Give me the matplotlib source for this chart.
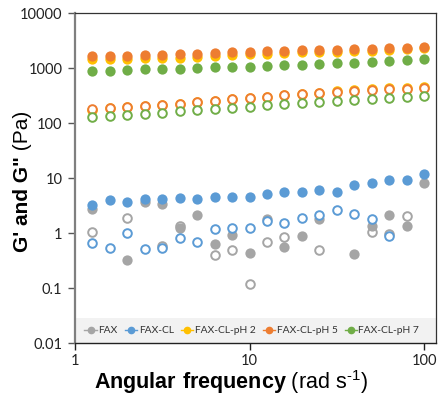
import numpy as np
import matplotlib
matplotlib.use('Agg')
import matplotlib.pyplot as plt
from matplotlib.lines import Line2D
from matplotlib.patches import Rectangle

# angular frequency (rad/s)
freq = [1.259, 1.585, 1.995, 2.512, 3.162, 3.981, 5.012, 6.310, 7.943, 10.0,
        12.59, 15.85, 19.95, 25.12, 31.62, 39.81, 50.12, 63.10, 79.43, 100.0]

nan = np.nan
# G' (filled) and G'' (open) for each sample
fax_g1 = [2.80, nan, 0.332, 3.72, 3.42, 1.24, 2.17, 0.637, 0.944, 0.447,
          1.79, 0.552, 0.881, 1.79, nan, 0.428, 1.35, 2.11, 1.33, 8.09]
fax_g2 = [1.07, nan, 1.89, nan, 0.593, 1.38, nan, 0.41, 0.493, 0.120,
          0.682, 0.844, nan, 0.493, nan, nan, 1.04, 0.973, 2.03, nan]
cl_g1 = [3.32, 4.05, 3.72, 4.28, 4.28, 4.41, 4.28, 4.60, 4.60, 4.60,
         5.08, 5.52, 5.69, 6.18, 5.60, 7.43, 8.20, 9.45, 9.45, 12.0]
cl_g2 = [0.655, 0.53, 1.01, 0.508, 0.53, 0.81, 0.703, 1.22, 1.24, 1.27,
         1.66, 1.53, 1.91, 2.11, 2.61, 2.21, 1.79, 0.906, nan, nan]
ph2_g1 = [1450, 1460, 1475, 1520, 1530, 1570, 1600, 1650, 1760, 1810,
          1850, 1900, 1940, 1970, 2000, 2070, 2080, 2140, 2200, 2300]
ph2_g2 = [178, 186, 194, 203, 214, 226, 240, 253, 273, 293,
          307, 326, 341, 357, 380, 403, 418, 432, 445, 465]
ph5_g1 = [1675, 1675, 1693, 1745, 1745, 1800, 1820, 1874, 1954, 2005,
          2037, 2090, 2124, 2152, 2179, 2245, 2245, 2311, 2372, 2472]
ph5_g2 = [180, 187, 195, 204, 215, 227, 241, 254, 273, 292,
          305, 323, 337, 351, 371, 392, 403, 415, 426, 444]
ph7_g1 = [893, 904, 931, 959, 971, 984, 1013, 1043, 1056, 1070,
          1101, 1134, 1148, 1182, 1233, 1264, 1318, 1358, 1397, 1458]
ph7_g2 = [132, 137, 143, 150, 156, 165, 172, 182, 192, 200,
          212, 224, 237, 247, 258, 268, 280, 292, 305, 318]

labels = ['FAX', 'FAX-CL', 'FAX-CL-pH 2', 'FAX-CL-pH 5', 'FAX-CL-pH 7']
colors = ['#A5A5A5', '#5B9BD5', '#FFC000', '#ED7D31', '#70AD47']
g1_sets = [fax_g1, cl_g1, ph2_g1, ph5_g1, ph7_g1]
g2_sets = [fax_g2, cl_g2, ph2_g2, ph5_g2, ph7_g2]

plt.rcParams['mathtext.fontset'] = 'custom'
plt.rcParams['mathtext.rm'] = 'Liberation Sans'
plt.rcParams['mathtext.bf'] = 'Liberation Sans:bold'

fig = plt.figure(figsize=(4.4, 3.95), dpi=100)
ax = fig.add_axes([75/440, 1-343.3/395, 361/440, 330/395])

for g1, g2, c in zip(g1_sets, g2_sets, colors):
    ax.plot(freq, g2, 'o', ms=6.2, mfc='white', mec=c, mew=1.4, ls='none')
    ax.plot(freq, g1, 'o', ms=7.4, mfc=c, mec='none', ls='none')

ax.set_xscale('log')
ax.set_yscale('log')
ax.set_xlim(1, 117)
ax.set_ylim(0.01, 10000)
ax.set_xticks([1, 10, 100])
ax.set_xticklabels(['1', '10', '100'])
ax.set_yticks([0.01, 0.1, 1, 10, 100, 1000, 10000])
ax.set_yticklabels(['0.01', '0.1', '1', '10', '100', '1000', '10000'])
ax.minorticks_off()
for lab in ax.get_xticklabels() + ax.get_yticklabels():
    lab.set_family('Lato')
    lab.set_fontsize(10.5)
    lab.set_color('#222222')
ax.tick_params(axis='y', direction='out', length=5, width=1, color='#555555', pad=4)
ax.tick_params(axis='x', direction='out', length=5, width=1, color='#222222', pad=3)

ax.spines['left'].set_color('#7F7F7F')
ax.spines['left'].set_linewidth(1.6)
ax.spines['bottom'].set_color('#222222')
ax.spines['bottom'].set_linewidth(1.0)
for s in ['top', 'right']:
    ax.spines[s].set_color('#333333')
    ax.spines[s].set_linewidth(0.9)

# legend band across the bottom of the plot
ax.add_patch(Rectangle((0, 0), 1, 25/330, transform=ax.transAxes,
                       facecolor='#F2F2F2', edgecolor='none', zorder=0.5))
handles = [Line2D([], [], color=c, marker='o', ms=4.5, lw=1.0) for c in colors]
leg = ax.legend(handles, labels, loc='center', ncol=5,
                bbox_to_anchor=(0.49, 12.5/330), borderaxespad=0,
                prop={'family': 'Lato', 'size': 7.4}, handlelength=1.2,
                handletextpad=0.15, columnspacing=0.7, frameon=False)
for t in leg.get_texts():
    t.set_color('#333333')

fig.text(231/440, 1-382/395, r'$\mathbf{Angular\ frequency}$ (rad s$^{\text{-}1}$)',
         family='Liberation Sans', fontsize=15.5, ha='center', va='center')

# y label: bold part + regular part
fig.canvas.draw()
r = fig.canvas.get_renderer()
t1 = fig.text(0, 0, 'G\' and G"', rotation=90, fontweight='bold',
              family='Liberation Sans', fontsize=15, ha='center', va='bottom')
t2 = fig.text(0, 0, ' (Pa)', rotation=90, family='Liberation Sans',
              fontsize=15, ha='center', va='bottom')
h1 = t1.get_window_extent(r).height
h2 = t2.get_window_extent(r).height
yc = 395 - 181
y0 = yc - (h1 + h2) / 2
t1.set_position((22/440, y0/395))
t2.set_position((22/440, (y0 + h1)/395))

plt.savefig('out.png', dpi=100)
